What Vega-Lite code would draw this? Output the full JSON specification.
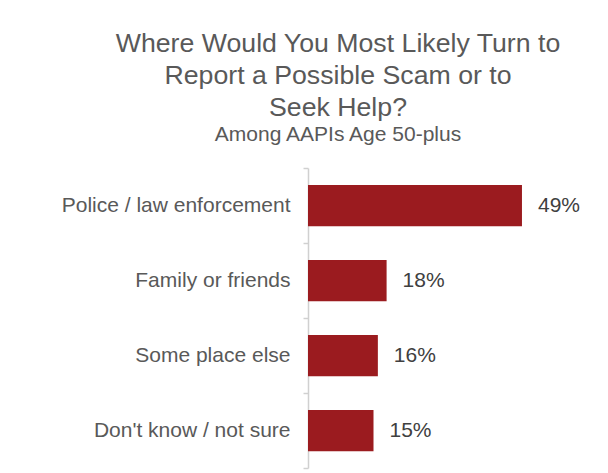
{
  "$schema": "https://vega.github.io/schema/vega-lite/v6.json",
  "autosize": {"type": "none"},
  "width": 262,
  "height": 300,
  "padding": {"left": 308, "top": 168, "right": 38, "bottom": 5},
  "background": "white",
  "config": {"view": {"stroke": null}, "font": "Liberation Sans"},
  "title": {
    "text": ["Where Would You Most Likely Turn to", "Report a Possible Scam or to", "Seek Help?"],
    "subtitle": "Among AAPIs Age 50-plus",
    "font": "Liberation Sans",
    "fontSize": 26.7,
    "fontWeight": "normal",
    "color": "#595959",
    "lineHeight": 32,
    "subtitleFont": "Liberation Sans",
    "subtitleFontSize": 21,
    "subtitleColor": "#595959",
    "subtitlePadding": 2,
    "anchor": "middle",
    "frame": "group",
    "dx": -101,
    "offset": 12
  },
  "data": {
    "values": [
      {"source": "Police / law enforcement", "share": 0.49},
      {"source": "Family or friends", "share": 0.18},
      {"source": "Some place else", "share": 0.16},
      {"source": "Don't know / not sure", "share": 0.15}
    ]
  },
  "encoding": {
    "y": {
      "field": "source",
      "type": "nominal",
      "sort": null,
      "scale": {"paddingInner": 0, "paddingOuter": 0},
      "axis": {
        "title": null,
        "domainColor": "#D0D0D0",
        "domainWidth": 1.5,
        "ticks": true,
        "tickColor": "#D0D0D0",
        "tickWidth": 1.5,
        "tickSize": 5,
        "tickBand": "extent",
        "labelFont": "Liberation Sans",
        "labelFontSize": 21,
        "labelColor": "#595959",
        "labelPadding": 13,
        "labelLimit": 400
      }
    },
    "x": {
      "field": "share",
      "type": "quantitative",
      "scale": {"domain": [0, 0.6], "nice": false},
      "axis": null
    }
  },
  "layer": [
    {"mark": {"type": "bar", "color": "#9B1B1F", "height": {"band": 0.55}}},
    {
      "mark": {"type": "text", "align": "left", "baseline": "middle", "dx": 16, "font": "Liberation Sans", "fontSize": 21, "color": "#404040"},
      "encoding": {"text": {"field": "share", "type": "quantitative", "format": ".0%"}}
    }
  ]
}
